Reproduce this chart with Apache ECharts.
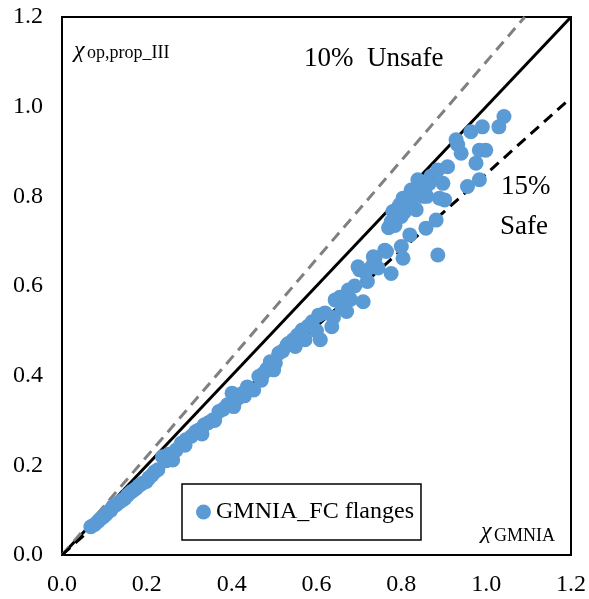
<!DOCTYPE html>
<html>
<head>
<meta charset="utf-8">
<script src="https://cdn.jsdelivr.net/npm/echarts@6/dist/echarts.min.js"></script>
<style>
html,body{margin:0;padding:0;background:#fff;}
#chart{width:589px;height:599px;}
</style>
</head>
<body>
<div id="chart"></div>
<script>
// GMNIA (x) vs proposal III (y)
var gmnia = [0.068,0.077,0.085,0.09,0.097,0.103,0.11,0.115,0.12,0.128,0.135,0.142,0.148,0.155,0.162,0.168,0.175,0.182,0.19,0.199,
	0.205,0.212,0.218,0.226,0.237,0.245,0.252,0.261,0.269,0.281,0.292,0.305,0.315,0.323,0.335,0.345,0.355,0.37,0.38,0.39,
	0.401,0.405,0.415,0.425,0.437,0.452,0.464,0.475,0.483,0.491,0.499,0.503,0.511,0.52,0.53,0.534,0.545,0.555,0.566,0.573,
	0.58,0.59,0.605,0.609,0.62,0.636,0.644,0.655,0.671,0.675,0.69,0.702,0.71,0.715,0.73,0.738,0.698,0.734,0.761,0.765,
	0.776,0.80,0.804,0.82,0.858,0.882,0.886,
	0.776,0.78,0.796,0.804,0.808,0.823,0.835,0.839,0.855,0.866,0.85,0.79,0.815,0.83,0.845,0.87,0.886,0.909,0.898,0.89,
	0.902,0.956,0.984,0.976,0.933,0.941,0.984,0.999,1.042,1.03,0.991,0.964,0.929,0.77,0.785,
	0.29,0.33,0.36,0.43,0.47,0.55,0.60,0.64,0.68,0.72,0.66,0.745,0.82,0.80,0.86];
var propIII = [0.063,0.068,0.075,0.08,0.085,0.09,0.097,0.10,0.108,0.112,0.118,0.122,0.126,0.134,0.14,0.144,0.149,0.155,0.16,0.164,
	0.172,0.178,0.185,0.19,0.219,0.21,0.225,0.212,0.234,0.249,0.257,0.265,0.275,0.279,0.29,0.295,0.301,0.32,0.325,0.335,
	0.361,0.331,0.35,0.36,0.375,0.368,0.398,0.405,0.415,0.431,0.413,0.428,0.45,0.455,0.468,0.472,0.48,0.49,0.502,0.48,
	0.51,0.52,0.535,0.48,0.54,0.509,0.569,0.575,0.543,0.591,0.60,0.636,0.565,0.63,0.643,0.662,0.643,0.665,0.68,0.677,
	0.628,0.688,0.662,0.714,0.729,0.747,0.669,
	0.743,0.766,0.781,0.796,0.766,0.814,0.77,0.837,0.814,0.829,0.80,0.755,0.79,0.80,0.825,0.845,0.859,0.866,0.829,0.796,
	0.792,0.822,0.837,0.874,0.915,0.896,0.903,0.903,0.978,0.955,0.955,0.944,0.926,0.73,0.735,
	0.245,0.27,0.30,0.355,0.39,0.465,0.50,0.53,0.57,0.61,0.55,0.64,0.78,0.755,0.80];
var lineEqual = [[0, 0], [1.2, 1.2]];
var lineUnsafe = [[0, 0], [1.091, 1.2]];
var lineSafe = [[0, 0], [1.2, 1.02]];
var ticks = [0, 0.2, 0.4, 0.6, 0.8, 1.0, 1.2];

var points = [];
for(var i = 0; i < gmnia.length; i++) {
	points.push([gmnia[i], propIII[i]]);
}

var serif = '"Liberation Serif", "Times New Roman", serif';
var myChart = echarts.init(document.getElementById('chart'));

var axisCommon = {
	type: 'value',
	min: ticks[0],
	max: ticks[ticks.length - 1],
	interval: 0.2,
	axisLine: { show: true, lineStyle: { color: '#000', width: 2 } },
	axisTick: { show: false },
	splitLine: { show: false },
	axisLabel: {
		color: '#000',
		fontFamily: serif,
		fontSize: 24,
		formatter: function(v) { return v.toFixed(1); }
	}
};

var option = {
	animation: false,
	backgroundColor: '#fff',
	grid: {
		left: 62, right: 15, top: 17, bottom: 44,
		show: true, borderColor: '#000', borderWidth: 2, backgroundColor: 'transparent'
	},
	xAxis: echarts.util.merge({ axisLabel: { margin: 18 } }, axisCommon),
	yAxis: echarts.util.merge({ axisLabel: { margin: 19 } }, axisCommon),
	legend: {
		data: ['GMNIA_FC flanges'],
		left: 182,
		top: 484,
		orient: 'horizontal',
		padding: [15, 7, 15, 14],
		borderColor: '#000',
		borderWidth: 1.5,
		itemWidth: 15,
		itemHeight: 15,
		itemGap: 5,
		textStyle: { color: '#000', fontFamily: serif, fontSize: 24, lineHeight: 26 }
	},
	graphic: [
		{ type: 'text', left: 74, top: 39, style: { text: 'χ', font: 'italic 24px ' + serif, fill: '#000' } },
		{ type: 'text', left: 87, top: 44, style: { text: 'op,prop_III', font: '18px ' + serif, fill: '#000' } },
		{ type: 'text', left: 304, top: 45, style: { text: '10%  Unsafe', font: '27px ' + serif, fill: '#000' } },
		{ type: 'text', left: 501, top: 173, style: { text: '15%', font: '27px ' + serif, fill: '#000' } },
		{ type: 'text', left: 500, top: 213, style: { text: 'Safe', font: '27px ' + serif, fill: '#000' } },
		{ type: 'text', left: 481, top: 520, style: { text: 'χ', font: 'italic 24px ' + serif, fill: '#000' } },
		{ type: 'text', left: 494, top: 527, style: { text: 'GMNIA', font: '18px ' + serif, fill: '#000' } }
	],
	series: [
		{
			name: 'equal',
			type: 'line',
			data: lineEqual,
			symbol: 'none',
			silent: true,
			z: 1,
			lineStyle: { color: '#000', width: 3 }
		},
		{
			name: 'unsafe',
			type: 'line',
			data: lineUnsafe,
			symbol: 'none',
			silent: true,
			z: 1,
			lineStyle: { color: '#808080', width: 3, type: [11, 7] }
		},
		{
			name: 'safe',
			type: 'line',
			data: lineSafe,
			symbol: 'none',
			silent: true,
			z: 1,
			lineStyle: { color: '#000', width: 3, type: [11, 7] }
		},
		{
			name: 'GMNIA_FC flanges',
			type: 'scatter',
			data: points,
			symbol: 'circle',
			symbolSize: 15,
			z: 3,
			itemStyle: { color: '#5B9BD5', opacity: 1 }
		}
	]
};
myChart.setOption(option);
</script>
</body>
</html>
